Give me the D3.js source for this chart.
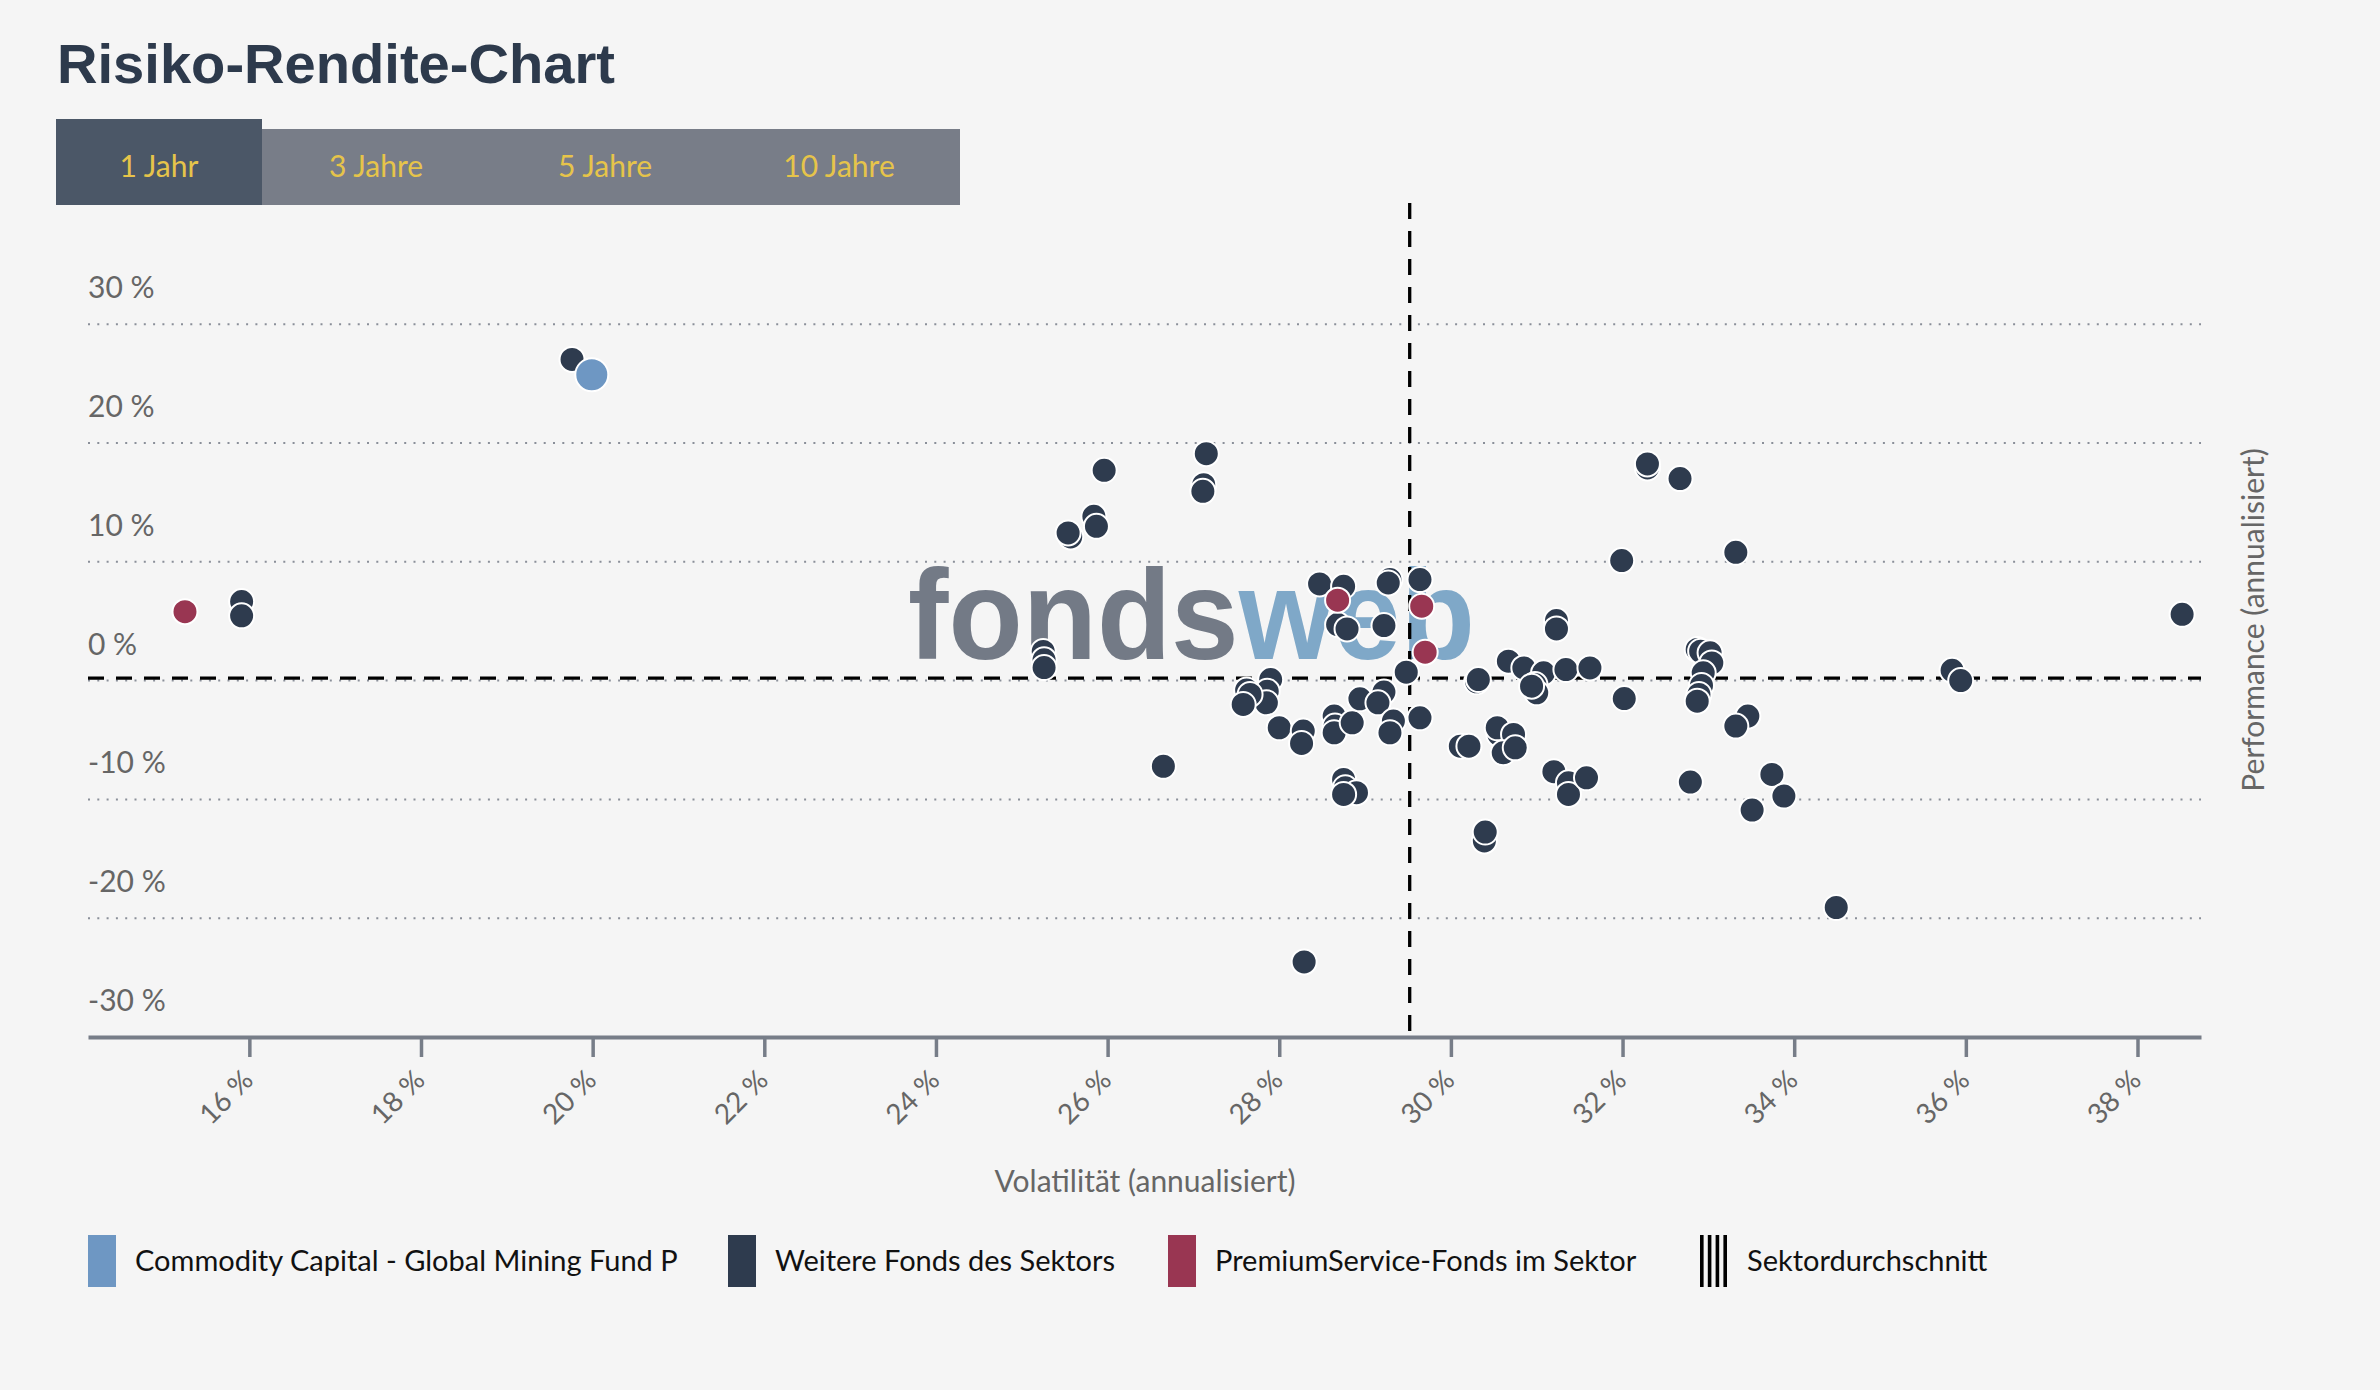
<!DOCTYPE html>
<html>
<head>
<meta charset="utf-8">
<script src="https://cdn.jsdelivr.net/npm/d3@7"></script>
<style>
  html, body { margin: 0; padding: 0; background: #f5f5f5; }
  svg { display: block; font-family: Lato, "Liberation Sans", sans-serif; }
</style>
</head>
<body>
<div id="chart"></div>
<script>
// --------------------------------------
//  Data
// --------------------------------------

const tabLabels = ["1 Jahr", "3 Jahre", "5 Jahre", "10 Jahre"];
const xTicks = [16, 18, 20, 22, 24, 26, 28, 30, 32, 34, 36, 38];
const yTicks = [-30, -20, -10, 0, 10, 20, 30];

// Commodity Capital - Global Mining Fund P
const fundVol = [19.99];
const fundPerf = [25.74];

// Weitere Fonds des Sektors
const peerVol = [
  15.91, 15.91, 19.76, 25.25, 25.26, 25.26, 25.96, 25.84, 25.87, 25.57, 25.54, 26.65,
  27.15, 27.12, 27.11, 27.90, 27.86, 27.85, 27.62, 27.66, 27.58, 28.00, 28.28, 28.26,
  28.47, 28.75, 28.68, 28.79, 29.22, 29.29, 29.27, 29.64, 29.48, 28.64, 28.65, 28.64,
  28.85, 28.94, 29.22, 29.15, 29.33, 29.29, 29.64, 30.30, 30.32, 30.67, 30.85, 31.08,
  30.98, 31.00, 30.94, 31.23, 31.23, 31.34, 31.62, 30.11, 30.21, 30.56, 30.54, 30.73,
  30.61, 30.75, 28.75, 28.77, 28.90, 28.75, 30.39, 30.40, 31.20, 31.37, 31.37, 31.58,
  32.02, 31.99, 33.32, 32.87, 32.91, 33.02, 33.04, 32.94, 32.92, 32.89, 32.87, 33.46,
  33.32, 32.79, 33.74, 33.88, 33.51, 32.29, 32.29, 32.67, 38.52, 34.49, 28.29, 35.84,
  35.94
];
const peerPerf = [
  6.65, 5.45, 27.03, 2.45, 1.75, 1.10, 17.70, 13.83, 12.99, 12.09, 12.43, -7.21,
  19.10, 16.49, 15.93, 0.09, -0.90, -1.87, -0.80, -1.17, -2.01, -3.97, -4.25, -5.29,
  8.14, 7.94, 4.72, 4.35, 4.63, 8.50, 8.22, 8.50, 0.71, -2.99, -3.83, -4.39,
  -3.55, -1.53, -0.97, -1.87, -3.41, -4.39, -3.13, -0.10, 0.09, 1.63, 1.07, 0.65,
  -0.33, -1.03, -0.47, 5.05, 4.35, 0.93, 1.07, -5.52, -5.52, -4.53, -3.97, -4.53,
  -6.08, -5.66, -8.32, -9.02, -9.44, -9.58, -13.50, -12.75, -7.67, -8.60, -9.58, -8.18,
  -1.51, 10.10, 10.80, 2.62, 2.47, 2.34, 1.49, 0.65, -0.41, -1.17, -1.73, -2.99,
  -3.83, -8.54, -7.90, -9.72, -10.90, 17.90, 18.24, 17.00, 5.58, -19.10, -23.68, 0.86,
  0.00
];

// PremiumService-Fonds im Sektor
const premiumVol = [15.25, 28.68, 29.66, 29.70];
const premiumPerf = [5.80, 6.77, 6.26, 2.39];

// Sektordurchschnitt
const avgVol = 29.52;
const avgPerf = 0.2;

const legendLabels = [
  "Commodity Capital - Global Mining Fund P",
  "Weitere Fonds des Sektors",
  "PremiumService-Fonds im Sektor",
  "Sektordurchschnitt"
];

// --------------------------------------
//  Margin and canvas
// --------------------------------------

const width = 2380;
const height = 1390;
const margin = {top: 203, right: 179, bottom: 353, left: 88};
const innerwidth = width - margin.left - margin.right;
const innerheight = height - margin.top - margin.bottom;

const colors = {
  fund: "#6e97c3",
  peer: "#2e3b4e",
  premium: "#993652",
  axis: "#777d88",
  grid: "#8a8f99",
  label: "#666666"
};

const svg = d3.select("#chart")
  .append("svg")
    .attr("width", width)
    .attr("height", height)
    .attr("viewBox", `0, 0, ${width}, ${height}`);

svg.append("rect")
    .attr("width", width)
    .attr("height", height)
    .attr("fill", "#f5f5f5");

// --------------------------------------
//  Title and tabs
// --------------------------------------

svg.append("text")
    .attr("x", 57)
    .attr("y", 83)
    .attr("font-family", "'Liberation Sans', sans-serif")
    .attr("font-weight", 700)
    .attr("font-size", 56)
    .attr("textLength", 558)
    .attr("lengthAdjust", "spacingAndGlyphs")
    .attr("fill", "#2d3a4c")
    .text("Risiko-Rendite-Chart");

svg.append("rect")
    .attr("x", 262)
    .attr("y", 129)
    .attr("width", 698)
    .attr("height", 76)
    .attr("fill", "#787d88");

svg.append("rect")
    .attr("x", 56)
    .attr("y", 119)
    .attr("width", 206)
    .attr("height", 86)
    .attr("fill", "#4b5767");

const tabCenters = [159, 376, 605, 839];

svg.selectAll(".tab")
  .data(tabLabels)
  .join("text")
    .attr("class", "tab")
    .attr("x", (d, i) => tabCenters[i])
    .attr("y", 177)
    .attr("text-anchor", "middle")
    .attr("font-weight", 400)
    .attr("font-size", 30)
    .attr("fill", "#e6c44a")
    .text(d => d);

// --------------------------------------
//  Scales
// --------------------------------------

const x = d3.scaleLinear()
    .domain([14.12, 38.74])
    .range([0, innerwidth]);

const y = d3.scaleLinear()
    .domain([-30, 40.2])
    .range([innerheight, 0]);

const innerChart = svg
  .append("g")
    .attr("transform", `translate(${margin.left}, ${margin.top})`);

// --------------------------------------
//  Watermark
// --------------------------------------

const mark = innerChart.append("text")
    .attr("x", 820)
    .attr("y", 456)
    .attr("font-family", "'Liberation Sans', sans-serif")
    .attr("font-weight", 700)
    .attr("font-size", 128)
    .attr("textLength", 567)
    .attr("lengthAdjust", "spacingAndGlyphs");

mark.append("tspan").attr("fill", "#737a86").text("fonds");
mark.append("tspan").attr("fill", "#7fa8c8").text("web");

// --------------------------------------
//  Grid and y labels
// --------------------------------------

innerChart.selectAll(".grid")
  .data(yTicks.filter(d => d > -30))
  .join("line")
    .attr("class", "grid")
    .attr("x1", 0)
    .attr("x2", innerwidth)
    .attr("y1", d => y(d))
    .attr("y2", d => y(d))
    .attr("stroke", colors.grid)
    .attr("stroke-width", 2)
    .attr("stroke-dasharray", "2,7.3");

innerChart.selectAll(".ylabel")
  .data(yTicks)
  .join("text")
    .attr("class", "ylabel")
    .attr("x", 0)
    .attr("y", d => y(d) - 26)
    .attr("font-size", 30)
    .attr("fill", colors.label)
    .text(d => `${d} %`);

// --------------------------------------
//  Sector average lines
// --------------------------------------

innerChart.append("line")
    .attr("x1", 0)
    .attr("x2", innerwidth)
    .attr("y1", y(avgPerf))
    .attr("y2", y(avgPerf))
    .attr("stroke", "#000")
    .attr("stroke-width", 3.3)
    .attr("stroke-dasharray", "16,12");

innerChart.append("line")
    .attr("x1", x(avgVol))
    .attr("x2", x(avgVol))
    .attr("y1", 0)
    .attr("y2", innerheight)
    .attr("stroke", "#000")
    .attr("stroke-width", 3.3)
    .attr("stroke-dasharray", "16,12");

// --------------------------------------
//  Axes
// --------------------------------------

innerChart
  .append("g")
    .attr("transform", `translate(0, ${innerheight})`)
    .call(d3.axisBottom(x)
      .tickValues(xTicks)
      .tickSize(20)
      .tickSizeOuter(0)
      .tickFormat(d => `${d} %`))
    .call(g => g.select(".domain")
      .attr("stroke", colors.axis)
      .attr("stroke-width", 4))
    .call(g => g.selectAll(".tick line")
      .attr("stroke", colors.axis)
      .attr("stroke-width", 3.5))
    .call(g => g.selectAll(".tick text")
      .attr("x", 0)
      .attr("y", 0)
      .attr("dy", 0)
      .attr("transform", "translate(5, 45) rotate(-45)")
      .attr("text-anchor", "end")
      .attr("font-family", "Lato, sans-serif")
      .attr("font-size", 28)
      .attr("fill", colors.label));

svg.append("text")
    .attr("x", 1145)
    .attr("y", 1192)
    .attr("text-anchor", "middle")
    .attr("font-size", 30)
    .attr("fill", colors.label)
    .text("Volatilität (annualisiert)");

svg.append("text")
    .attr("transform", "translate(2252, 620) rotate(-90)")
    .attr("text-anchor", "middle")
    .attr("dominant-baseline", "central")
    .attr("font-size", 30)
    .attr("fill", colors.label)
    .text("Performance (annualisiert)");

// --------------------------------------
//  Data drawing
// --------------------------------------

innerChart.append("g")
  .selectAll("circle")
  .data(d3.range(peerVol.length))
  .join("circle")
    .attr("cx", i => x(peerVol[i]))
    .attr("cy", i => y(peerPerf[i]))
    .attr("r", 12.5)
    .attr("fill", colors.peer)
    .attr("stroke", "#fff")
    .attr("stroke-width", 2);

innerChart.append("g")
  .selectAll("circle")
  .data(d3.range(premiumVol.length))
  .join("circle")
    .attr("cx", i => x(premiumVol[i]))
    .attr("cy", i => y(premiumPerf[i]))
    .attr("r", 12.5)
    .attr("fill", colors.premium)
    .attr("stroke", "#fff")
    .attr("stroke-width", 2);

innerChart.append("g")
  .selectAll("circle")
  .data(d3.range(fundVol.length))
  .join("circle")
    .attr("cx", i => x(fundVol[i]))
    .attr("cy", i => y(fundPerf[i]))
    .attr("r", 16.5)
    .attr("fill", colors.fund)
    .attr("stroke", "#fff")
    .attr("stroke-width", 2);

// --------------------------------------
//  Legend
// --------------------------------------

const legendX = [88, 728, 1168, 1700];
const legendColors = [colors.fund, colors.peer, colors.premium, null];

const legend = svg.selectAll(".legend")
  .data(legendLabels)
  .join("g")
    .attr("class", "legend")
    .attr("transform", (d, i) => `translate(${legendX[i]}, 1235)`);

legend.filter((d, i) => legendColors[i])
  .append("rect")
    .attr("width", 28)
    .attr("height", 52)
    .attr("fill", (d, i) => legendColors[i]);

legend.filter((d, i) => !legendColors[i])
  .selectAll("rect")
  .data([0, 1, 2, 3])
  .join("rect")
    .attr("x", d => d * 7.8)
    .attr("width", 3.6)
    .attr("height", 52)
    .attr("fill", "#000");

legend.append("text")
    .attr("x", 47)
    .attr("y", 36)
    .attr("font-size", 29)
    .attr("fill", "#111")
    .text(d => d);

</script>
</body>
</html>
